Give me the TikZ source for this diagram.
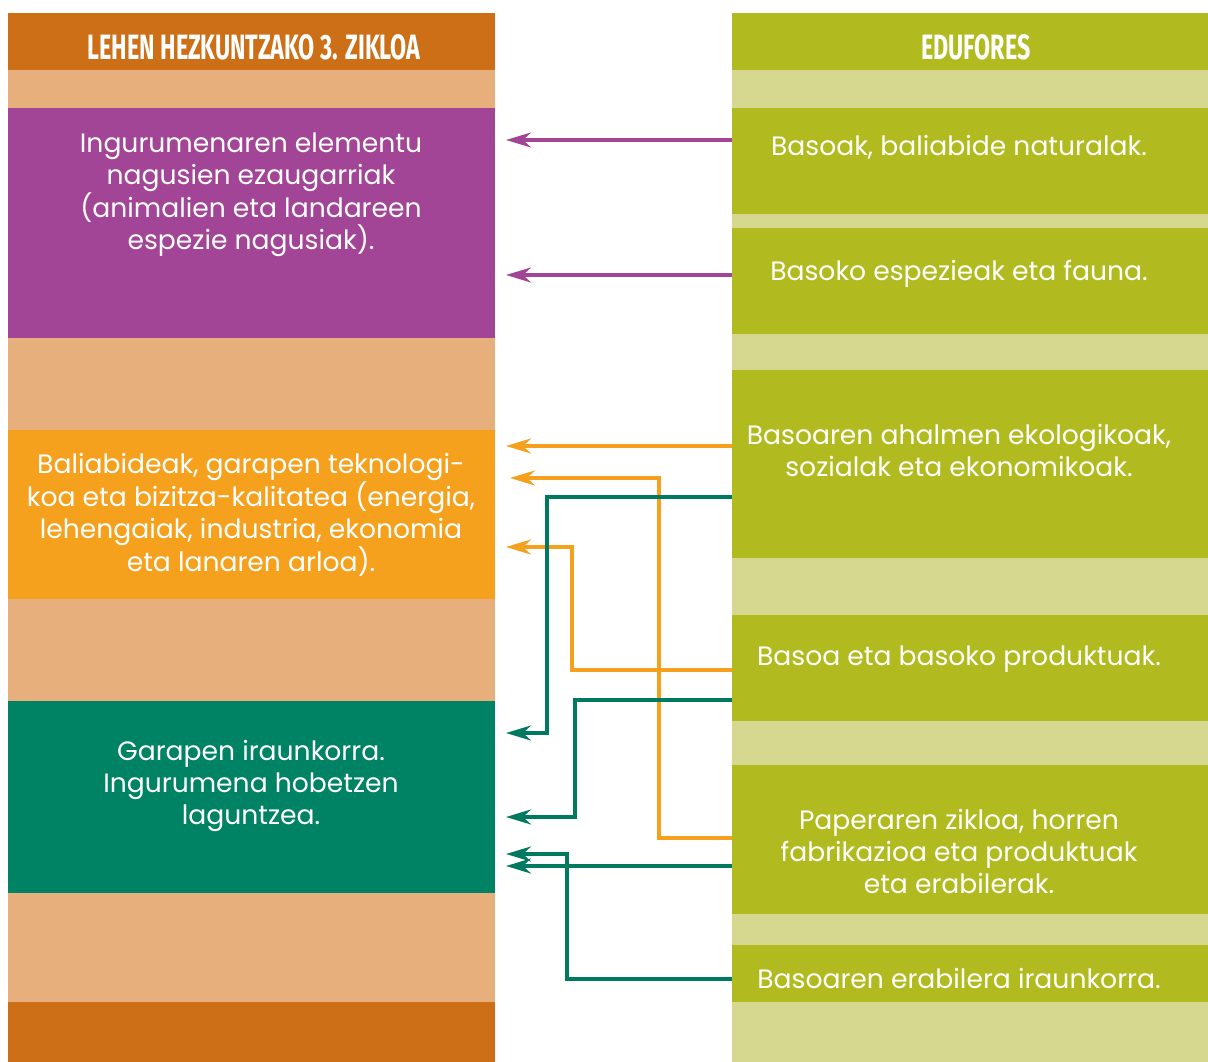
\documentclass[tikz,border=0pt]{standalone}
\usepackage{fontspec}
\setmainfont{Poppins}
\newfontfamily\headfont{Fira Sans}
\usetikzlibrary{arrows.meta}
\definecolor{darkor}{HTML}{CD6F16}
\definecolor{lightor}{HTML}{E6AF7C}
\definecolor{purpleC}{HTML}{A34597}
\definecolor{orangeC}{HTML}{F5A11E}
\definecolor{greenC}{HTML}{008365}
\definecolor{greenA}{HTML}{007A5E}
\definecolor{oliveC}{HTML}{B1BB1F}
\definecolor{lightol}{HTML}{D5D88E}
\begin{document}
\begin{tikzpicture}[x=1pt,y=-1pt,
  box/.style={anchor=north west,inner sep=0pt,outer sep=0pt,draw=none},
  txt/.style={text=white,align=center,inner sep=0pt,font=\fontsize{26.6}{32}\selectfont},
  head/.style={text=white,inner sep=0pt,font=\headfont\bfseries},
  conn/.style={line width=3.2pt,-{Stealth[length=25pt,width=15pt,inset=8pt]}},
  parr/.style={conn,draw=purpleC},
  oarr/.style={conn,draw=orangeC},
  garr/.style={conn,draw=greenA}]
\useasboundingbox (0,0) rectangle (1208,1062);
\fill[white] (0,0) rectangle (1208,1062);
% left column
\fill[lightor] (8,13) rectangle (495,1062);
\node[box,fill=darkor,minimum width=487pt,minimum height=57pt] (LH) at (8,13) {};
\node[box,fill=purpleC,minimum width=487pt,minimum height=230pt] (L1) at (8,108) {};
\node[box,fill=orangeC,minimum width=487pt,minimum height=169pt] (L2) at (8,430) {};
\node[box,fill=greenC,minimum width=487pt,minimum height=192pt] (L3) at (8,701) {};
\node[box,fill=darkor,minimum width=487pt,minimum height=60pt] (LF) at (8,1002) {};
% right column
\fill[lightol] (732,13) rectangle (1208,1062);
\node[box,fill=oliveC,minimum width=476pt,minimum height=57pt] (RH) at (732,13) {};
\node[box,fill=oliveC,minimum width=476pt,minimum height=106pt] (R1) at (732,108) {};
\node[box,fill=oliveC,minimum width=476pt,minimum height=106pt] (R2) at (732,228) {};
\node[box,fill=oliveC,minimum width=476pt,minimum height=188pt] (R3) at (732,370) {};
\node[box,fill=oliveC,minimum width=476pt,minimum height=106pt] (R4) at (732,615) {};
\node[box,fill=oliveC,minimum width=476pt,minimum height=149pt] (R5) at (732,765) {};
\node[box,fill=oliveC,minimum width=476pt,minimum height=57pt] (R6) at (732,945) {};
% headers
\node[head] (LHt) at (254,47) {\resizebox{333pt}{25pt}{LEHEN HEZKUNTZAKO 3. ZIKLOA}};
\node[head] (RHt) at (976,47) {\resizebox{109pt}{25pt}{EDUFORES}};
% texts
\node[txt] (L1t) at (251,195) {Ingurumenaren elementu\\nagusien ezaugarriak\\(animalien eta landareen\\espezie nagusiak).};
\node[txt] (L2t) at (251,515) {Baliabideak, garapen teknologi-\\koa eta bizitza-kalitatea (energia,\\lehengaiak, industria, ekonomia\\eta lanaren arloa).};
\node[txt] (L3t) at (251,786) {Garapen iraunkorra.\\Ingurumena hobetzen\\laguntzea.};
\node[txt] (R1t) at (959,147) {Basoak, baliabide naturalak.};
\node[txt] (R2t) at (959,274) {Basoko espezieak eta fauna.};
\node[txt] (R3t) at (959,450) {Basoaren ahalmen ekologikoak,\\sozialak eta ekonomikoak.};
\node[txt] (R4t) at (959,659) {Basoa eta basoko produktuak.};
\node[txt] (R5t) at (959,851) {Paperaren zikloa, horren\\fabrikazioa eta produktuak\\eta erabilerak.};
\node[txt] (R6t) at (959,978) {Basoaren erabilera iraunkorra.};
% tip line
\coordinate (Lx) at ([xshift=11pt]L1.east);
\coordinate (Lx2) at ([xshift=15pt]L1.east);
% connectors
\draw[parr] (R1.west |- 0,140) -- (Lx |- 0,140);
\draw[parr] (R2.west |- 0,275) -- (Lx |- 0,275);
\draw[oarr] (R3.west |- 0,446) -- (Lx |- 0,446);
\draw[oarr] (R5.west |- 0,838) -- (659,838) -- (659,478) -- (Lx2 |- 0,478);
\draw[oarr] (R4.west |- 0,670) -- (572,670) -- (572,547) -- (Lx |- 0,547);
\draw[garr] (R3.west |- 0,497) -- (547,497) -- (547,733) -- (Lx |- 0,733);
\draw[garr] (R4.west |- 0,700) -- (575,700) -- (575,817) -- (Lx |- 0,817);
\draw[garr] (R6.west |- 0,979) -- (567,979) -- (567,854) -- (Lx |- 0,854);
\draw[garr] (R5.west |- 0,866) -- (Lx |- 0,866);
\end{tikzpicture}
\end{document}
